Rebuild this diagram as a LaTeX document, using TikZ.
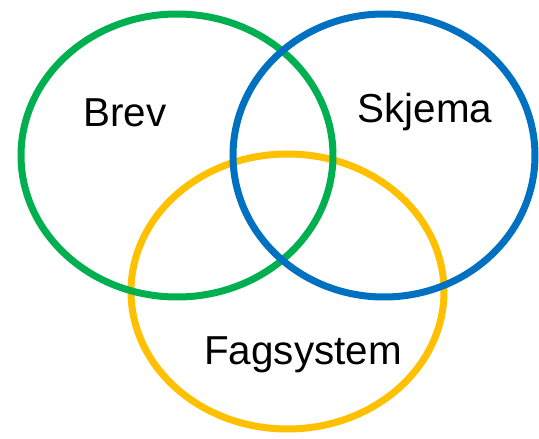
\documentclass[tikz,border=0pt]{standalone}
\usepackage{fontspec}
\setmainfont{Liberation Sans}
\usepackage{tikz}
\usetikzlibrary{positioning}

\definecolor{brevgreen}{HTML}{00B050}
\definecolor{skjemablue}{HTML}{0070C0}
\definecolor{fagyellow}{HTML}{FFC000}

\begin{document}
\begin{tikzpicture}[x=0.02cm,y=-0.02cm,
    ring/.style={line width=0.14cm},
    setlabel/.style={font=\fontsize{23}{27}\selectfont,inner sep=0pt,anchor=base}]
    \useasboundingbox (0,0) rectangle (539,439);
    \clip (0,0) rectangle (539,439);
    \draw[ring,draw=fagyellow] (287.5,291.5) ellipse [x radius=156.5, y radius=137.5];
    \draw[ring,draw=brevgreen] (177,155.5) ellipse [x radius=156, y radius=141.5];
    \draw[ring,draw=skjemablue] (384,155.5) ellipse [x radius=151, y radius=141.5];
    \node[setlabel] (brev) at (125,127) {Brev};
    \node[setlabel] (skjema) at (425,123) {Skjema};
    \node[setlabel] (fagsystem) at (303,365) {Fagsystem};
  \end{tikzpicture}
\end{document}
